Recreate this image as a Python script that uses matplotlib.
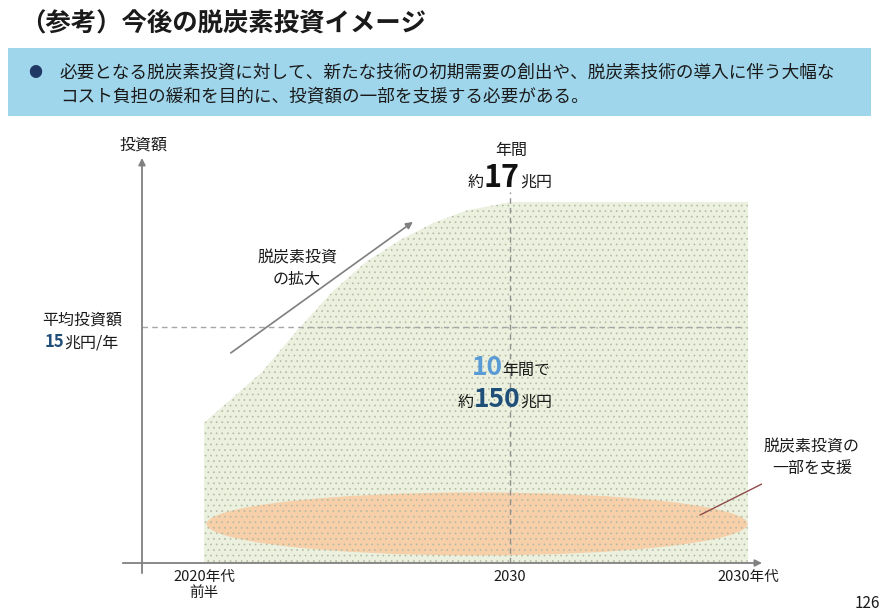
import matplotlib
matplotlib.use("Agg")
import matplotlib.pyplot as plt
from matplotlib.patches import Ellipse, Rectangle

plt.rcParams['font.family'] = ['Noto Sans CJK JP', 'DejaVu Sans']

# ---------------- data ----------------
years = [2022.0, 2022.76, 2023.52, 2024.46, 2025.37, 2026.25, 2027.12, 2027.98,
         2028.86, 2029.74, 2030.0, 2036.22]
investment = [6.6, 7.8, 9.0, 11.0, 12.8, 14.2, 15.2, 16.0, 16.6, 16.9, 17.0, 17.0]
tick_pos = [2022.0, 2030.0, 2036.22]
tick_labels = ["2020年代\n前半", "2030", "2030年代"]
avg_level = 11.1          # drawn level of the average line (15兆円/年)
peak_year = 2030.0
support_center = (2029.14, 1.84)
support_size = (14.14, 2.97)

title = "（参考）今後の脱炭素投資イメージ"
banner_lines = ["必要となる脱炭素投資に対して、新たな技術の初期需要の創出や、脱炭素技術の導入に伴う大幅な",
                "コスト負担の緩和を目的に、投資額の一部を支援する必要がある。"]

W, H = 885, 612
fig = plt.figure(figsize=(W / 100, H / 100), dpi=100)


def fx(px):
    return px / W


def fy(py):
    return 1 - py / H


# ---------------- header ----------------
fig.text(fx(20), fy(23), title, fontsize=18.3, fontweight='bold', color='#1a1a1a',
         ha='left', va='center')
fig.patches.append(Rectangle((fx(8), fy(116)), (871 - 8) / W, (116 - 48) / H,
                             transform=fig.transFigure, facecolor='#A0D6EC',
                             edgecolor='none', zorder=0))
fig.text(fx(35), fy(73), "●", fontsize=10, color='#1F3864', ha='center', va='center')
fig.text(fx(60), fy(73), banner_lines[0], fontsize=12.7, color='#1a1a1a', ha='left', va='center')
fig.text(fx(60), fy(97), banner_lines[1], fontsize=12.7, color='#1a1a1a', ha='left', va='center')
fig.text(fx(880), fy(603), "126", fontsize=11, color='#1a1a1a', ha='right', va='center')

# ---------------- chart ----------------
ax = fig.add_axes([fx(142), fy(563), (762 - 142) / W, (563 - 158) / H])
ax.set_xlim(2020.379, 2036.588)
ax.set_ylim(0, 19.07)
ax.axis('off')

ax.fill_between(years, investment, 0, facecolor='#EBF1DE', lw=0, zorder=1)
ax.add_patch(Ellipse(support_center, support_size[0], support_size[1],
                     facecolor='#F7CFA9', edgecolor='none', zorder=2))
plt.rcParams['hatch.linewidth'] = 0.5
ax.fill_between(years, investment, 0, facecolor='none', edgecolor='#B3BBA5',
                hatch='...', lw=0, zorder=3)

# dashed guide lines
ax.plot([ax.get_xlim()[0], years[-1] - 0.08], [avg_level, avg_level],
        ls=(0, (4, 3)), color='#A6A6A6', lw=1, zorder=4)
ax.plot([peak_year, peak_year], [0, 17.47], ls=(0, (4, 3)), color='#909090', lw=1, zorder=4)

# axes arrows
ax.annotate('', xy=(1, 0), xytext=(-0.031, 0), xycoords='axes fraction',
            arrowprops=dict(arrowstyle='-|>', color='#808080', lw=1.3,
                            mutation_scale=10, shrinkA=0, shrinkB=0), zorder=5)
ax.annotate('', xy=(0, 1), xytext=(0, -0.025), xycoords='axes fraction',
            arrowprops=dict(arrowstyle='-|>', color='#808080', lw=1.3,
                            mutation_scale=10, shrinkA=0, shrinkB=0), zorder=5)

# growth arrow
ax.annotate('', xy=(2027.46, 16.06), xytext=(2022.7, 9.89),
            arrowprops=dict(arrowstyle='-|>', color='#7F7F7F', lw=1.2,
                            mutation_scale=10, shrinkA=0, shrinkB=0), zorder=5)
# leader line to support ellipse
ax.plot([2034.97, 2036.64], [2.26, 3.77], color='#8E4B4B', lw=1, zorder=5)

# tick labels
for xp, lab in zip(tick_pos, tick_labels):
    ax.text(xp, -0.35, lab, ha='center', va='top', fontsize=10.5, color='#1a1a1a',
            linespacing=1.15, clip_on=False)

# ---------------- labels ----------------
lab_kw = dict(fontsize=11.5, color='#1a1a1a', ha='center', va='center')
fig.text(fx(143), fy(145), "投資額", **lab_kw)
fig.text(fx(82), fy(320), "平均投資額", **lab_kw)
fig.text(fx(297), fy(258), "脱炭素投資", **lab_kw)
fig.text(fx(297), fy(280), "の拡大", **lab_kw)
fig.text(fx(812), fy(447), "脱炭素投資の", **lab_kw)
fig.text(fx(812), fy(469), "一部を支援", **lab_kw)
fig.text(fx(511), fy(150), "年間", **lab_kw)

renderer = fig.canvas.get_renderer()


def rich(xc, ybase, pieces):
    texts = [fig.text(0, 0, s, va='baseline', ha='left', **kw) for s, kw in pieces]
    widths = [t.get_window_extent(renderer).width for t in texts]
    start = xc - sum(widths) / 2
    for t, w in zip(texts, widths):
        t.set_position((fx(start), fy(ybase)))
        start += w


small = dict(fontsize=11.5, color='#1a1a1a')
rich(510, 187, [("約", small), ("17", dict(fontsize=22, fontweight='bold', color='#111111')),
                ("兆円", small)])
rich(82, 347, [("15", dict(fontsize=12, fontweight='bold', color='#1F4E79')),
               ("兆円/年", small)])
rich(511, 375, [("10", dict(fontsize=19, fontweight='bold', color='#5B9BD5')),
                ("年間で", small)])
rich(505, 407, [("約", small), ("150", dict(fontsize=19, fontweight='bold', color='#1F4E79')),
                ("兆円", small)])

fig.savefig("out.png", dpi=100)
